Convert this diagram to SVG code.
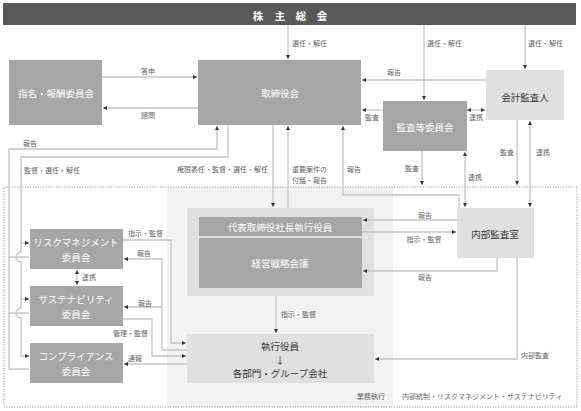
<svg xmlns="http://www.w3.org/2000/svg" width="581" height="411" viewBox="0 0 581 411">
<defs>
<marker id="a" viewBox="0 0 8 8" refX="8" refY="4" markerWidth="4" markerHeight="4" markerUnits="userSpaceOnUse" orient="auto-start-reverse"><path d="M0,0 L8,4 L0,8 z" fill="#333"/></marker>
<style>
text{font-family:"Noto Sans CJK JP","Noto Sans",sans-serif;dominant-baseline:central}
.bx{fill:#a6a6a6}
.lt{fill:#e0e0e0}
.wt{fill:#fff;font-size:9.5px;text-anchor:middle}
.dk{fill:#333;font-size:9.5px;text-anchor:middle}
.lb{fill:#666;font-size:7px}
.ln{fill:none;stroke:#c4c4c4;stroke-width:1.3}
.ar{marker-end:url(#a)}
.ab{marker-start:url(#a);marker-end:url(#a)}
</style>
</defs>
<rect width="581" height="411" fill="#fff"/>
<g id="areas">
<rect x="167" y="187" width="226" height="220" fill="#f2f2f2"/>
<rect x="4" y="187" width="573" height="220" fill="none" stroke="#999" stroke-width="1" stroke-dasharray="1.3,1.3"/>
<rect x="187" y="208" width="187" height="88" fill="#e0e0e0"/>
<text class="lb" x="385" y="396" text-anchor="end">業務執行</text>
<text class="lb" x="402" y="396">内部統制・リスクマネジメント・サステナビリティ</text>
</g>
<g id="connectors">
<path class="ln ar" d="M288,25 V59"/>
<path class="ln ar" d="M424,25 V100"/>
<path class="ln ar" d="M525,25 V69"/>
<path class="ln ar" d="M102,77 H197"/>
<path class="ln ar" d="M198,108 H103"/>
<path class="ln ar" d="M486,80 H362"/>
<path class="ln ar" d="M383,110 H362"/>
<path class="ln ab" d="M467,110 H485"/>
<path class="ln ar" d="M517,120 V185"/>
<path class="ln ab" d="M530,121 V207"/>
<path class="ln ar" d="M422,151 V185"/>
<path class="ln ab" d="M465,152 V207"/>
<path class="ln ar" d="M459,208 V195 H343 V126"/>
<path class="ln ar" d="M273,125 V207"/>
<path class="ln ar" d="M288,208 V126"/>
<path class="ln ar" d="M457,220 H363"/>
<path class="ln ar" d="M362,232 H456"/>
<path class="ln ar" d="M497,258 V271 H363"/>
<path class="ln ar" d="M517,258 V359 H375"/>
<path class="ln ar" d="M276,296 V333"/>
<path class="ln ab" d="M77,270 V285"/>
<path class="ln ar" d="M9,369 V149 H217 V126"/>
<path class="ln" d="M29,257 H9 M29,313 H9 M29,369 H9"/>
<path class="ln ar" d="M228,125 V157 H21 V252 a5,5 0 0 0 0,10 V308 a5,5 0 0 0 0,10 V356 H29"/>
<path class="ln ar" d="M21,243 H29"/>
<path class="ln ar" d="M21,299 H29"/>
<path class="ln ar" d="M123,240 H171 V343 H186"/>
<path class="ln ar" d="M187,350 H162 V259 H124"/>
<path class="ln ar" d="M162,307 H124"/>
<path class="ln ar" d="M123,319 H152 V356 H186"/>
<path class="ln ar" d="M187,364 H124"/>
<text class="lb" x="148" y="71" text-anchor="middle">答申</text>
<text class="lb" x="148" y="115" text-anchor="middle">諮問</text>
<text class="lb" x="292" y="43">選任・解任</text>
<text class="lb" x="427" y="43">選任・解任</text>
<text class="lb" x="528" y="43">選任・解任</text>
<text class="lb" x="394" y="72" text-anchor="middle">報告</text>
<text class="lb" x="365" y="117">監査</text>
<text class="lb" x="469" y="117">連携</text>
<text class="lb" x="500" y="152">監査</text>
<text class="lb" x="536" y="152">連携</text>
<text class="lb" x="405" y="168">監査</text>
<text class="lb" x="468" y="177">連携</text>
<text class="lb" x="347" y="169">報告</text>
<text class="lb" x="23" y="143">報告</text>
<text class="lb" x="24" y="170">監督・選任・解任</text>
<text class="lb" x="268" y="169" text-anchor="end">権限委任・監督・選任・解任</text>
<text class="lb" x="292" y="169">重要案件の</text>
<text class="lb" x="292" y="180">付議・報告</text>
<text class="lb" x="425" y="215" text-anchor="middle">報告</text>
<text class="lb" x="424" y="239" text-anchor="middle">指示・監督</text>
<text class="lb" x="425" y="277" text-anchor="middle">報告</text>
<text class="lb" x="521" y="355">内部監査</text>
<text class="lb" x="281" y="314">指示・監督</text>
<text class="lb" x="128" y="233">指示・監督</text>
<text class="lb" x="137" y="253">報告</text>
<text class="lb" x="82" y="277">連携</text>
<text class="lb" x="138" y="303">報告</text>
<text class="lb" x="113" y="333">管理・監督</text>
<text class="lb" x="128" y="358">通報</text>
</g>
<g id="shareholders">
<rect x="3" y="3" width="573" height="22" fill="#595959"/>
<text x="258 280 301 322" y="15" fill="#fff" font-size="10.5" font-weight="bold" text-anchor="middle">株主総会</text>
</g>
<g id="nomination">
<rect class="bx" x="9" y="60" width="93" height="65"/>
<text class="wt" x="56" y="93">指名・報酬委員会</text>
</g>
<g id="board">
<rect class="bx" x="198" y="60" width="163" height="65"/>
<text class="wt" x="280" y="93">取締役会</text>
</g>
<g id="auditor">
<rect class="lt" x="486" y="70" width="78" height="50"/>
<text class="dk" x="525" y="97">会計監査人</text>
</g>
<g id="audit-committee">
<rect class="bx" x="383" y="101" width="84" height="50"/>
<text class="wt" x="425" y="127">監査等委員会</text>
</g>
<g id="internal-audit">
<rect class="lt" x="457" y="208" width="77" height="50"/>
<text class="dk" x="495" y="234">内部監査室</text>
</g>
<g id="president">
<rect class="bx" x="199" y="217" width="163" height="19"/>
<text class="wt" x="280" y="227">代表取締役社長執行役員</text>
</g>
<g id="strategy">
<rect class="bx" x="199" y="238" width="163" height="50"/>
<text class="wt" x="280" y="263">経営戦略会議</text>
</g>
<g id="executives">
<rect class="lt" x="187" y="334" width="187" height="49"/>
<text class="dk" x="280" y="346">執行役員</text>
<text class="dk" x="280" y="359.5" font-size="6">↓</text>
<text class="dk" x="280" y="373">各部門・グループ会社</text>
</g>
<g id="risk">
<rect class="bx" x="30" y="229" width="93" height="40"/>
<text class="wt" x="76" y="242">リスクマネジメント</text>
<text class="wt" x="76" y="257">委員会</text>
</g>
<g id="sustainability">
<rect class="bx" x="30" y="286" width="93" height="40"/>
<text class="wt" x="76" y="299">サステナビリティ</text>
<text class="wt" x="76" y="314">委員会</text>
</g>
<g id="compliance">
<rect class="bx" x="30" y="343" width="93" height="40"/>
<text class="wt" x="76" y="356">コンプライアンス</text>
<text class="wt" x="76" y="371">委員会</text>
</g>
</svg>
